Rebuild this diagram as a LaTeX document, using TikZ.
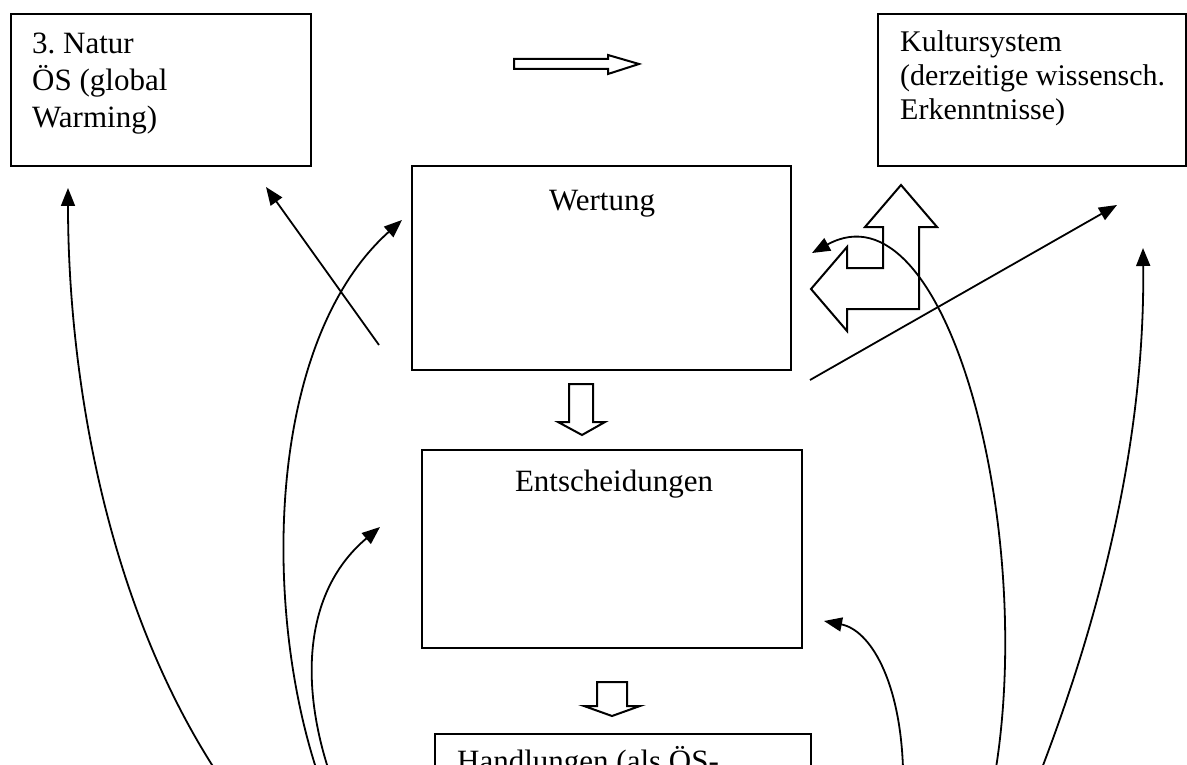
\documentclass[tikz,border=0pt]{standalone}
\usepackage{fontspec}
\setmainfont{Liberation Serif}
\usetikzlibrary{arrows.meta}
\frenchspacing

\begin{document}
\begin{tikzpicture}[x=1pt,y=-1pt,
    box/.style={draw,line width=2pt,inner sep=0pt},
    txt/.style={inner sep=0pt,align=left,font=\fontsize{31}{37}\selectfont},
    con/.style={line width=1.8pt,-{Triangle[length=18pt,width=14pt]}},
    blk/.style={line width=2pt,line join=miter}]
      \clip (0,0) rectangle (1187,765);
      % Kaesten
      \node[box,minimum width=300pt,minimum height=152pt] (natur) at (161,90) {};
      \node[box,minimum width=308pt,minimum height=152pt] (kultur) at (1032,90) {};
      \node[box,minimum width=379pt,minimum height=204pt] (wertung) at (601.5,268) {};
      \node[box,minimum width=380pt,minimum height=198pt] (entsch) at (612,549) {};
      \node[box,minimum width=376pt,minimum height=150pt] (handl) at (623,809) {};
      % Texte
      \node[txt,anchor=base west] (naturtxt) at (32,128) {3. Natur\\ÖS (global\\Warming)};
      \node[txt,anchor=base west,font=\fontsize{30}{34}\selectfont] (kulturtxt) at (900,120)
        {Kultursystem\\(derzeitige wissensch.\\Erkenntnisse)};
      \node[txt,anchor=base] (werttxt) at (602,211) {Wertung};
      \node[txt,anchor=base] (entschtxt) at (614,491) {Entscheidungen};
      \node[txt,anchor=base west] (handltxt) at (457,771) {Handlungen (als ÖS-};
      % Blockpfeile
      \draw[blk] (514,59)--(608,59)--(608,55)--(639,64)--(608,74)--(608,69)--(514,69)--cycle;
      \draw[blk] (569,384)--(593,384)--(593,422)--(605,422)--(582,435)--(558,422)--(569,422)--cycle;
      \draw[blk] (597,682)--(627,682)--(627,706)--(640,706)--(612,716)--(584,706)--(597,706)--cycle;
      \draw[blk] (901,185)--(937,227)--(919,227)--(919,309)--(847,309)--(847,331)--(811,289)
        --(847,247)--(847,268)--(883,268)--(883,227)--(865,227)--cycle;
      % Enden der Verbindungen
      \coordinate (h1) at (214,768);
      \coordinate (h2) at (316,768);
      \coordinate (h3) at (328,768);
      \coordinate (h4) at (903,768);
      \coordinate (h5) at (996,768);
      \coordinate (h6) at (1042,768);
      \coordinate (n1) at (68,188);
      \coordinate (n2) at (266,187);
      \coordinate (w1) at (379,345);
      \coordinate (w2) at (402,220);
      \coordinate (w3) at (812,253);
      \coordinate (w4) at (810,380);
      \coordinate (k1) at (1117,205);
      \coordinate (k2) at (1143,248);
      \coordinate (e1) at (380,527);
      \coordinate (e2) at (824,621);
      % Verbindungen
      \draw[con] (h1) .. controls (100,590) and (68,360) .. (n1);
      \draw[con] (w1) -- (n2);
      \draw[con] (h2) .. controls (262,600) and (268,340) .. (w2);
      \draw[con] (h3) .. controls (300,680) and (305,590) .. (e1);
      \draw[con] (w4) -- (k1);
      \draw[con] (h5) .. controls (1035,520) and (945,180) .. (w3);
      \draw[con] (h4) .. controls (900,680) and (870,630) .. (e2);
      \draw[con] (h6) .. controls (1110,590) and (1145,420) .. (k2);
    \end{tikzpicture}
\end{document}
